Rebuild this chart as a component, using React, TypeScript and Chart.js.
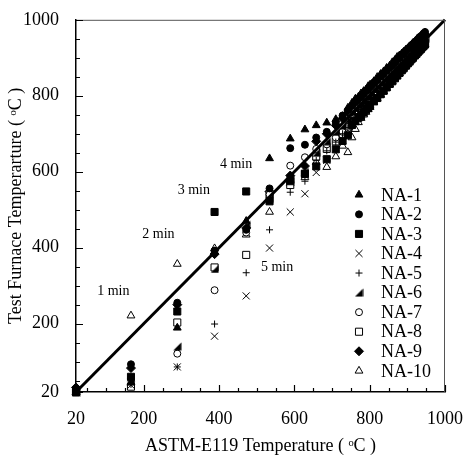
import React, { useEffect, useRef } from 'react';
import { Chart, registerables } from 'chart.js';
import { drawPoint } from 'chart.js/helpers';

Chart.register(...registerables);

const FONT = '"Liberation Serif", "Times New Roman", serif';

// ASTM-E119 temperature at each reading (x values, °C)
const astmX = [20, 166, 289, 388, 472, 534, 589, 628, 658, 686, 710, 728, 742, 753, 762, 770, 777, 784, 790, 796, 801,
  811, 820, 829, 837, 845, 853, 860, 867, 873, 879, 885, 890, 896, 901, 906, 911, 915, 920, 924, 928, 932, 936, 940, 943, 947];

// Test furnace temperatures (y values, °C)
const na1 = [20, 45, 189, 390, 470, 635, 687, 711, 722, 729, 738, 746, 768,
  781, 792, 797, 806, 812, 816, 825, 829, 838, 849, 857, 864, 873, 879, 888, 894, 902, 906, 911, 915, 921, 925, 930, 934, 938, 942, 946, 949, 953, 956, 960, 962, 966];
const na2 = [28, 93, 255, 392, 447, 556, 662, 671, 690, 705, 728, 748, 762,
  774, 785, 792, 797, 806, 813, 817, 823, 835, 841, 851, 860, 866, 875, 880, 889, 896, 900, 907, 911, 919, 923, 927, 933, 936, 942, 944, 949, 954, 957, 960, 964, 968];
const na3 = [20, 60, 232, 494, 548, 522, 575, 594, 614, 633, 659, 681, 696,
  723, 733, 742, 747, 756, 763, 768, 774, 786, 794, 804, 813, 822, 831, 838, 846, 853, 860, 867, 872, 879, 885, 890, 896, 900, 906, 910, 915, 919, 923, 928, 931, 935];
const na4 = [20, 38, 86, 167, 273, 399, 494, 542, 598, 630, 660, 684, 702,
  730, 741, 748, 753, 762, 769, 773, 779, 791, 798, 808, 817, 825, 834, 841, 849, 856, 863, 869, 875, 881, 887, 892, 898, 902, 908, 912, 917, 921, 925, 930, 933, 937];
const na5 = [20, 40, 86, 199, 334, 447, 546, 575, 630, 655, 678, 700, 716,
  742, 753, 760, 765, 774, 781, 785, 791, 803, 809, 819, 828, 834, 843, 848, 857, 864, 869, 876, 881, 888, 893, 898, 904, 907, 913, 917, 922, 925, 930, 934, 937, 941];
const na6 = [20, 48, 140, 344, 460, 530, 580, 600, 650, 680, 705, 722, 738,
  758, 769, 776, 781, 790, 797, 801, 807, 819, 825, 835, 844, 850, 859, 864, 873, 880, 884, 891, 895, 903, 907, 911, 917, 920, 926, 928, 933, 938, 941, 944, 948, 952];
const na7 = [20, 55, 121, 288, 440, 540, 616, 638, 660, 672, 690, 705, 718,
  749, 760, 767, 772, 781, 788, 792, 798, 810, 816, 826, 835, 841, 850, 855, 864, 871, 875, 882, 886, 894, 898, 902, 908, 911, 917, 919, 924, 929, 932, 935, 939, 943];
const na8 = [20, 34, 203, 348, 381, 540, 565, 595, 640, 660, 680, 695, 708,
  736, 747, 754, 759, 768, 775, 779, 785, 797, 803, 813, 822, 829, 838, 844, 853, 859, 866, 872, 878, 884, 890, 895, 901, 905, 910, 915, 919, 923, 928, 932, 935, 939];
const na9 = [32, 83, 250, 383, 452, 548, 590, 615, 680, 700, 722, 740, 755,
  767, 778, 785, 790, 799, 806, 810, 816, 828, 834, 844, 853, 859, 868, 873, 882, 889, 893, 900, 904, 912, 916, 920, 926, 929, 935, 937, 942, 947, 950, 953, 957, 961];
const na10 = [20, 221, 357, 398, 434, 494, 570, 585, 625, 612, 640, 668, 651,
  690, 712, 730, 741, 750, 757, 764, 770, 782, 792, 802, 811, 820, 829, 837, 845, 852, 859, 866, 872, 878, 884, 890, 896, 900, 906, 910, 915, 919, 923, 928, 931, 935];

const seriesNames = ['NA-1', 'NA-2', 'NA-3', 'NA-4', 'NA-5', 'NA-6', 'NA-7', 'NA-8', 'NA-9', 'NA-10'];
const seriesValues = [na1, na2, na3, na4, na5, na6, na7, na8, na9, na10];

// reference line (ASTM = furnace)
const refLineX = [20, 1000];
const refLineY = [20, 1000];

const majorTicks = [20, 200, 400, 600, 800, 1000];
const minorTicks = [50, 100, 150, 250, 300, 350, 450, 500, 550, 650, 700, 750, 850, 900, 950];

const minuteLabels = ['1 min', '2 min', '3 min', '4 min', '5 min'];
const minuteLabelX = [119, 239, 333, 445, 554];
const minuteLabelY = [286, 434, 552, 620, 349];

function makeHalfTriangle(): HTMLCanvasElement {
  const c = document.createElement('canvas');
  c.width = 9;
  c.height = 9;
  const g = c.getContext('2d')!;
  g.fillStyle = '#000';
  g.beginPath();
  g.moveTo(8.5, 0.5);
  g.lineTo(8.5, 8.5);
  g.lineTo(0.5, 8.5);
  g.closePath();
  g.fill();
  return c;
}

export default function App() {
  const ref = useRef<HTMLCanvasElement | null>(null);

  useEffect(() => {
    const canvas = ref.current;
    if (!canvas) return;
    const half = makeHalfTriangle();
    const styles: any[] = [
      { pointStyle: 'triangle', radius: 4.5, fill: '#000' },
      { pointStyle: 'circle', radius: 3.5, fill: '#000' },
      { pointStyle: 'rect', radius: 5, fill: '#000' },
      { pointStyle: 'crossRot', radius: 5, fill: '#000' },
      { pointStyle: 'cross', radius: 3.5, fill: '#000' },
      { pointStyle: half, radius: 4.5, fill: '#000' },
      { pointStyle: 'circle', radius: 3.5, fill: '#fff' },
      { pointStyle: 'rect', radius: 5, fill: '#fff' },
      { pointStyle: 'rectRot', radius: 4.5, fill: '#000' },
      { pointStyle: 'triangle', radius: 4.5, fill: '#fff' },
    ];

    const datasets: any[] = seriesNames.map((name, i) => ({
      type: 'scatter',
      label: name,
      data: astmX.map((x, j) => ({ x, y: seriesValues[i][j] })),
      pointStyle: styles[i].pointStyle,
      pointRadius: styles[i].radius,
      pointBackgroundColor: styles[i].fill,
      pointBorderColor: '#000',
      pointBorderWidth: 1,
      showLine: false,
      clip: false,
      order: 1,
    }));
    datasets.push({
      type: 'line',
      label: 'ref',
      data: refLineX.map((x, j) => ({ x, y: refLineY[j] })),
      borderColor: '#000',
      borderWidth: 3,
      pointRadius: 0,
      fill: false,
      clip: false,
      order: 0,
    });

    const decor = {
      id: 'decor',
      afterDraw(chart: any) {
        const ctx = chart.ctx;
        const { left, right, top, bottom } = chart.chartArea;
        const xs = chart.scales.x;
        const ys = chart.scales.y;
        ctx.save();
        // top & right frame
        ctx.strokeStyle = '#555';
        ctx.lineWidth = 1;
        ctx.beginPath();
        ctx.moveTo(left, top + 0.5);
        ctx.lineTo(right - 0.5, top + 0.5);
        ctx.lineTo(right - 0.5, bottom);
        ctx.stroke();
        // inward ticks
        ctx.strokeStyle = '#000';
        ctx.lineWidth = 1.2;
        ctx.beginPath();
        majorTicks.forEach((v) => {
          const px = Math.round(xs.getPixelForValue(v)) + 0.5;
          ctx.moveTo(px, bottom);
          ctx.lineTo(px, bottom - 7);
          const py = Math.round(ys.getPixelForValue(v)) + 0.5;
          ctx.moveTo(left, py);
          ctx.lineTo(left + 7, py);
        });
        minorTicks.forEach((v) => {
          const px = Math.round(xs.getPixelForValue(v)) + 0.5;
          ctx.moveTo(px, bottom);
          ctx.lineTo(px, bottom - 4);
          const py = Math.round(ys.getPixelForValue(v)) + 0.5;
          ctx.moveTo(left, py);
          ctx.lineTo(left + 4, py);
        });
        ctx.stroke();
        // minute annotations
        ctx.fillStyle = '#000';
        ctx.font = '14px ' + FONT;
        ctx.textAlign = 'center';
        ctx.textBaseline = 'middle';
        minuteLabels.forEach((t, i) => {
          ctx.fillText(t, xs.getPixelForValue(minuteLabelX[i]), ys.getPixelForValue(minuteLabelY[i]));
        });
        // legend
        ctx.font = '18px ' + FONT;
        ctx.textAlign = 'left';
        const markerX = right - 86;
        const textX = right - 64;
        const startY = top + 175;
        const rowH = 19.56;
        seriesNames.forEach((name, i) => {
          const y = startY + i * rowH;
          ctx.fillStyle = styles[i].fill;
          ctx.strokeStyle = '#000';
          ctx.lineWidth = 1;
          drawPoint(ctx, { pointStyle: styles[i].pointStyle, radius: styles[i].radius, rotation: 0, borderWidth: 1 } as any, markerX, y);
          ctx.fillStyle = '#000';
          ctx.fillText(name, textX, y + 1);
        });
        ctx.restore();
      },
    };

    const chart = new Chart(canvas, {
      type: 'scatter',
      data: { datasets },
      options: {
        responsive: false,
        animation: false,
        devicePixelRatio: 1,
        layout: { padding: { top: 16, right: 19, left: 0, bottom: 0 } },
        plugins: { legend: { display: false }, tooltip: { enabled: false } },
        scales: {
          x: {
            type: 'linear',
            min: 20,
            max: 1000,
            afterBuildTicks: (s: any) => { s.ticks = majorTicks.map((v) => ({ value: v })); },
            afterFit: (s: any) => { s.height = 65; },
            grid: { display: false },
            border: { display: true, color: '#000', width: 1.5 },
            ticks: { font: { family: FONT, size: 18 }, color: '#000', padding: 8, maxRotation: 0, autoSkip: false, callback: (v: any) => String(v) },
            title: { display: true, text: 'ASTM-E119 Temperature ( ᵒC )', font: { family: FONT, size: 18 }, color: '#000', padding: { top: 0, bottom: 0 } },
          },
          y: {
            type: 'linear',
            min: 20,
            max: 1000,
            afterBuildTicks: (s: any) => { s.ticks = majorTicks.map((v) => ({ value: v })); },
            afterFit: (s: any) => { s.width = 76; },
            grid: { display: false },
            border: { display: true, color: '#000', width: 1.5 },
            ticks: { font: { family: FONT, size: 18 }, color: '#000', padding: 9, autoSkip: false, callback: (v: any) => String(v) },
            title: { display: true, text: 'Test Furnace Temperarture ( ᵒC )', font: { family: FONT, size: 18 }, color: '#000', padding: { top: 5, bottom: 0 } },
          },
        },
      } as any,
      plugins: [decor],
    });
    return () => chart.destroy();
  }, []);

  return (
    <div style={{ position: 'absolute', left: 0, top: 0, width: 471, height: 457, background: '#fff' }}>
      <canvas ref={ref} width={471} height={457} style={{ width: 471, height: 457 }} />
    </div>
  );
}
